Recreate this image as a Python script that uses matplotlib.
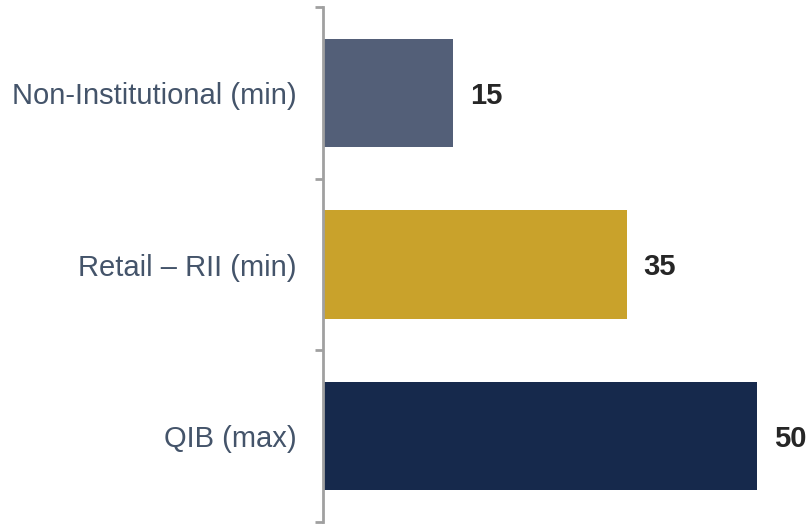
import matplotlib.pyplot as plt
import numpy as np

categories = ["Non-Institutional (min)", "Retail \u2013 RII (min)", "QIB (max)"]
values = [15, 35, 50]
colors = ["#535F78", "#C9A22B", "#16294C"]

plt.rcParams["font.family"] = ["Liberation Sans", "DejaVu Sans"]

fig = plt.figure(figsize=(8.08, 5.24), dpi=100)
ax = fig.add_axes([323 / 808, 2 / 524, 485 / 808, 515 / 524])

y = np.arange(len(categories))
bars = ax.barh(y, values, height=0.63, color=colors)

for b, v in zip(bars, values):
    ax.annotate(str(v), (b.get_width(), b.get_y() + b.get_height() / 2),
                xytext=(12, -2), textcoords="offset points",
                va="center", ha="left", fontsize=21, fontweight="bold",
                color="#262626")

ax.set_ylim(len(categories) - 0.5, -0.5)
ax.set_xlim(0, 485 / 8.68)

ax.set_yticks(y)
ax.set_yticklabels(categories, fontsize=21, color="#44546A")
ax.tick_params(axis="y", which="major", length=0, pad=19)
ax.set_yticks(np.arange(len(categories) + 1) - 0.5, minor=True)
ax.tick_params(axis="y", which="minor", length=6, width=2, color="#A0A0A0")

ax.set_xticks([])
for s in ["top", "right", "bottom"]:
    ax.spines[s].set_visible(False)
ax.spines["left"].set_color("#A0A0A0")
ax.spines["left"].set_linewidth(2)

fig.savefig("out.png", dpi=100)
